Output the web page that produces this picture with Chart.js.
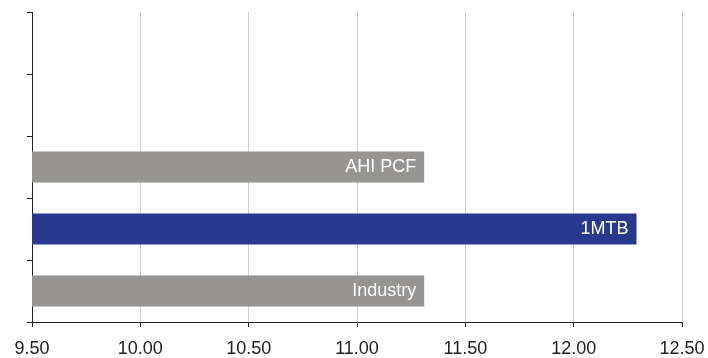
<!DOCTYPE html>
<html>
<head>
<meta charset="utf-8">
<script src="https://cdn.jsdelivr.net/npm/chart.js@4/dist/chart.umd.min.js"></script>
<style>
html,body{margin:0;padding:0;background:#fff;}
#wrap{width:708px;height:358px;position:relative;}
</style>
</head>
<body>
<div id="wrap"><canvas id="c" width="708" height="358"></canvas></div>
<script>
const categories = ["", "", "AHI PCF", "1MTB", "Industry"];
const values = [null, null, 11.31, 12.29, 11.31];
const barColors = ["#969594", "#969594", "#969594", "#2a3990", "#969594"];
const xTicks = [9.5, 10.0, 10.5, 11.0, 11.5, 12.0, 12.5];

const barLabels = {
  id: 'barLabels',
  afterDatasetsDraw(chart) {
    const ctx = chart.ctx;
    const meta = chart.getDatasetMeta(0);
    ctx.save();
    ctx.font = '18px "Liberation Sans", Arial, sans-serif';
    ctx.fillStyle = '#ffffff';
    ctx.textAlign = 'right';
    ctx.textBaseline = 'middle';
    meta.data.forEach((el, i) => {
      if (values[i] == null) return;
      ctx.fillText(categories[i], el.x - 8, el.y);
    });
    ctx.restore();
  }
};

new Chart(document.getElementById('c'), {
  type: 'bar',
  data: {
    labels: categories,
    datasets: [{
      data: values,
      backgroundColor: barColors,
      borderWidth: 0,
      barPercentage: 0.5,
      categoryPercentage: 1.0
    }]
  },
  options: {
    indexAxis: 'y',
    responsive: false,
    animation: false,
    devicePixelRatio: 1,
    layout: { padding: { left: 0, right: 26, top: 12, bottom: 0 } },
    plugins: { legend: { display: false }, tooltip: { enabled: false } },
    scales: {
      x: {
        min: 9.5,
        max: 12.5,
        afterBuildTicks: (s) => { s.ticks = xTicks.map(v => ({ value: v })); },
        afterFit: (s) => { s.height = 36; s.paddingLeft = 0; s.paddingRight = 0; },
        ticks: {
          callback: (v) => Number(v).toFixed(2),
          color: '#222222',
          font: { family: '"Liberation Sans", Arial, sans-serif', size: 18 },
          padding: 11,
          maxRotation: 0
        },
        grid: { color: '#d0d0d0', tickColor: '#222222', tickLength: 5, lineWidth: 1 },
        border: { color: '#222222', width: 1 }
      },
      y: {
        afterFit: (s) => { s.width = 32; s.paddingTop = 0; s.paddingBottom = 0; },
        ticks: { display: false },
        grid: { drawOnChartArea: false, offset: true, tickLength: 5, tickColor: '#222222', color: '#222222' },
        border: { color: '#222222', width: 1 }
      }
    }
  },
  plugins: [barLabels]
});
</script>
</body>
</html>
